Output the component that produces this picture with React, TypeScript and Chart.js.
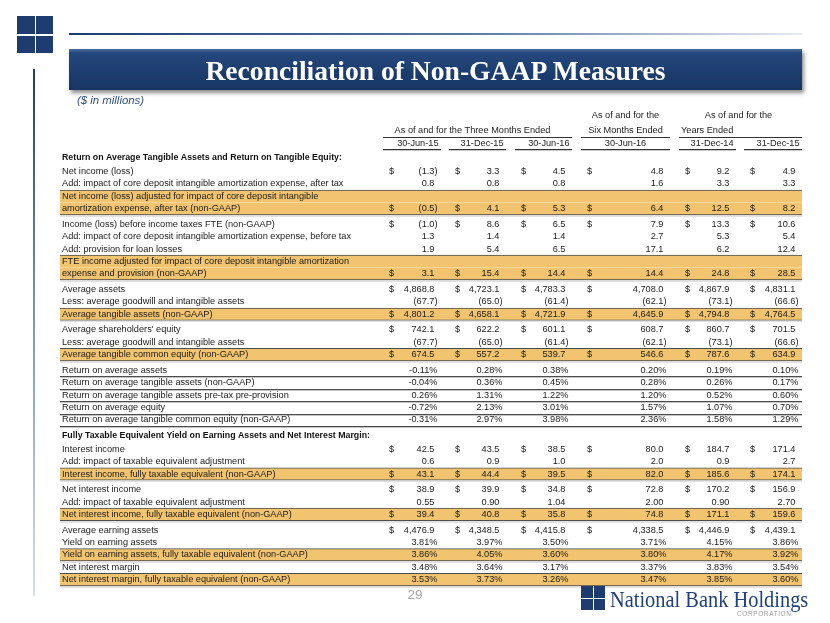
import React, { useEffect, useRef } from 'react';
import { Chart, registerables } from 'chart.js';

Chart.register(...registerables);

// ---------------- DATA ----------------
const periodDates = ['30-Jun-15', '31-Dec-15', '30-Jun-16', '30-Jun-16', '31-Dec-14', '31-Dec-15'];
const periodGroupThree = 'As of and for the Three Months Ended';
const periodGroupSix = ['As of and for the', 'Six Months Ended'];
const periodGroupYears = ['As of and for the', 'Years Ended'];

const rowLabels: (string | string[])[] = [
  'Return on Average Tangible Assets and Return on Tangible Equity:',
  'Net income (loss)',
  'Add: impact of core deposit intangible amortization expense, after tax',
  ['Net income (loss) adjusted for impact of core deposit intangible', 'amortization expense, after tax (non-GAAP)'],
  'Income (loss) before income taxes FTE (non-GAAP)',
  'Add: impact of core deposit intangible amortization expense, before tax',
  'Add: provision for loan losses',
  ['FTE income adjusted for impact of core deposit intangible amortization', 'expense and provision (non-GAAP)'],
  'Average assets',
  'Less: average goodwill and intangible assets',
  'Average tangible assets (non-GAAP)',
  "Average shareholders' equity",
  'Less: average goodwill and intangible assets',
  'Average tangible common equity (non-GAAP)',
  'Return on average assets',
  'Return on average tangible assets (non-GAAP)',
  'Return on average tangible assets pre-tax pre-provision',
  'Return on average equity',
  'Return on average tangible common equity (non-GAAP)',
  'Fully Taxable Equivalent Yield on Earning Assets and Net Interest Margin:',
  'Interest income',
  'Add: impact of taxable equivalent adjustment',
  'Interest income, fully taxable equivalent (non-GAAP)',
  'Net interest income',
  'Add: impact of taxable equivalent adjustment',
  'Net interest income, fully taxable equivalent (non-GAAP)',
  'Average earning assets',
  'Yield on earning assets',
  'Yield on earning assets, fully taxable equivalent (non-GAAP)',
  'Net interest margin',
  'Net interest margin, fully taxable equivalent (non-GAAP)',
];

// section | row | hl (highlighted non-GAAP) | rule (row with bottom rule)
const rowKinds = [
  'section', 'row', 'row', 'hl', 'row', 'row', 'row', 'hl', 'row', 'row', 'hl', 'row', 'row', 'hl',
  'rule', 'rule', 'rule', 'rule', 'rule',
  'section', 'row', 'row', 'hl', 'row', 'row', 'hl', 'row', 'row', 'hl', 'row', 'hl',
];

const rowFormats = [
  '', 'n1', 'n1', 'n1', 'n1', 'n1', 'n1', 'n1', 'n1', 'n1', 'n1', 'n1', 'n1', 'n1',
  'pct', 'pct', 'pct', 'pct', 'pct',
  '', 'n1', 'n1', 'n1', 'n1', 'n2', 'n1', 'n1', 'pct', 'pct', 'pct', 'pct',
];

const rowDollar = [
  false, true, false, true, true, false, false, true, true, false, true, true, false, true,
  false, false, false, false, false,
  false, true, false, true, true, false, true, true, false, false, false, false,
];

const jun15 = [null, -1.3, 0.8, -0.5, -1.0, 1.3, 1.9, 3.1, 4868.8, -67.7, 4801.2, 742.1, -67.7, 674.5,
  -0.11, -0.04, 0.26, -0.72, -0.31, null, 42.5, 0.6, 43.1, 38.9, 0.55, 39.4, 4476.9, 3.81, 3.86, 3.48, 3.53];
const dec15 = [null, 3.3, 0.8, 4.1, 8.6, 1.4, 5.4, 15.4, 4723.1, -65.0, 4658.1, 622.2, -65.0, 557.2,
  0.28, 0.36, 1.31, 2.13, 2.97, null, 43.5, 0.9, 44.4, 39.9, 0.90, 40.8, 4348.5, 3.97, 4.05, 3.64, 3.73];
const jun16 = [null, 4.5, 0.8, 5.3, 6.5, 1.4, 6.5, 14.4, 4783.3, -61.4, 4721.9, 601.1, -61.4, 539.7,
  0.38, 0.45, 1.22, 3.01, 3.98, null, 38.5, 1.0, 39.5, 34.8, 1.04, 35.8, 4415.8, 3.50, 3.60, 3.17, 3.26];
const sixJun16 = [null, 4.8, 1.6, 6.4, 7.9, 2.7, 17.1, 14.4, 4708.0, -62.1, 4645.9, 608.7, -62.1, 546.6,
  0.20, 0.28, 1.20, 1.57, 2.36, null, 80.0, 2.0, 82.0, 72.8, 2.00, 74.8, 4338.5, 3.71, 3.80, 3.37, 3.47];
const year14 = [null, 9.2, 3.3, 12.5, 13.3, 5.3, 6.2, 24.8, 4867.9, -73.1, 4794.8, 860.7, -73.1, 787.6,
  0.19, 0.26, 0.52, 1.07, 1.58, null, 184.7, 0.9, 185.6, 170.2, 0.90, 171.1, 4446.9, 4.15, 4.17, 3.83, 3.85];
const year15 = [null, 4.9, 3.3, 8.2, 10.6, 5.4, 12.4, 28.5, 4831.1, -66.6, 4764.5, 701.5, -66.6, 634.9,
  0.10, 0.17, 0.60, 0.70, 1.29, null, 171.4, 2.7, 174.1, 156.9, 2.70, 159.6, 4439.1, 3.86, 3.92, 3.54, 3.60];

const columns = [jun15, dec15, jun16, sixJun16, year14, year15];

// ---------------- LAYOUT ----------------
const W = 830;
const H = 623;
const LINE = 12.4; // px per text line
const TABLE_TOP = 158; // px of first row
const GAP_AFTER_HL = 3.2 / LINE;
const GAP_AFTER_SEC = 1.0 / LINE;
const GAP_BEFORE_SEC = 3.6 / LINE;
const TABLE_LEFT = 60;
const TABLE_RIGHT = 802;
const LABEL_X = 62;
const COL_START = [383, 449, 515, 581, 679, 744];
const COL_END = [441, 506, 572, 670, 736, 802];
const HEAD_Y1 = -3.4;
const HEAD_Y2 = -2.25;
const HEAD_RULE1 = -1.67;
const DATE_Y = -1.17;
const HEAD_RULE2 = -0.7;

const SANS = "'Liberation Sans', Arial, Helvetica, sans-serif";
const F_BODY = `9.2px ${SANS}`;
const F_BOLD = `bold 8.8px ${SANS}`;
const F_HEAD = `9.2px ${SANS}`;
const TXT = '#1a1a1a';
const NAVY = '#1f3c70';

// row positions in "line" units (computed from row kinds / line counts)
const firstY: number[] = [];
const lastY: number[] = [];
(() => {
  let y = 0;
  rowKinds.forEach((k, i) => {
    if (i > 0) {
      const prev = rowKinds[i - 1];
      y += 1;
      // a white gap follows a highlighted block, unless the next row is itself squeezed between highlights
      if (prev === 'hl' && rowKinds[i + 1] !== 'hl') y += GAP_AFTER_HL;
      if (prev === 'section') y += GAP_AFTER_SEC;
      if (k === 'section') y += GAP_BEFORE_SEC;
    }
    const lab = rowLabels[i];
    const n = Array.isArray(lab) ? lab.length : 1;
    firstY.push(y);
    y += n - 1;
    lastY.push(y);
  });
})();

const hlLines: { y: number; first: boolean; last: boolean }[] = [];
rowKinds.forEach((k, i) => {
  if (k !== 'hl') return;
  const lab = rowLabels[i];
  const n = Array.isArray(lab) ? lab.length : 1;
  for (let j = 0; j < n; j++) hlLines.push({ y: firstY[i] + j, first: j === 0, last: j === n - 1 });
});

function fmt(v: number, f: string): string {
  if (f === 'pct') return (v < 0 ? '-' : '') + Math.abs(v).toFixed(2) + '%';
  const d = f === 'n2' ? 2 : 1;
  const s = Math.abs(v).toLocaleString('en-US', { minimumFractionDigits: d, maximumFractionDigits: d });
  return v < 0 ? '(' + s + ')' : s;
}

const tablePlugin = {
  id: 'tableText',
  afterDatasetsDraw(chart: any) {
    const { ctx } = chart;
    const xs = chart.scales.x;
    const ys = chart.scales.y;
    const X = (v: number) => xs.getPixelForValue(v);
    const Y = (v: number) => ys.getPixelForValue(v);
    const hline = (x0: number, x1: number, yv: number, color: string, dy = 0) => {
      const yy = Math.round(Y(yv)) + 0.5 + dy;
      ctx.beginPath();
      ctx.moveTo(X(x0), yy);
      ctx.lineTo(X(x1), yy);
      ctx.strokeStyle = color;
      ctx.lineWidth = 1;
      ctx.stroke();
    };
    const text = (s: string, xv: number, yv: number, align: string, font: string, color = TXT) => {
      ctx.font = font;
      ctx.fillStyle = color;
      ctx.textAlign = align;
      ctx.fillText(s, X(xv), Y(yv));
    };

    ctx.save();
    ctx.textBaseline = 'middle';

    // ---- header ----
    const sixC = (COL_START[3] + COL_END[3]) / 2;
    const yrsC = (COL_START[4] + COL_END[5]) / 2 - 2;
    text(periodGroupSix[0], sixC, HEAD_Y1, 'center', F_HEAD, '#222');
    text(periodGroupYears[0], yrsC, HEAD_Y1, 'center', F_HEAD, '#222');
    text(periodGroupThree, (COL_START[0] + COL_END[2]) / 2 - 5, HEAD_Y2, 'center', F_HEAD, '#222');
    text(periodGroupSix[1], sixC, HEAD_Y2, 'center', F_HEAD, '#222');
    text(periodGroupYears[1], COL_START[4] + 2, HEAD_Y2, 'left', F_HEAD, '#222');
    hline(COL_START[0], COL_END[2], HEAD_RULE1, '#333');
    hline(COL_START[3], COL_END[3], HEAD_RULE1, '#333');
    hline(COL_START[4], COL_END[5], HEAD_RULE1, '#333');
    periodDates.forEach((d, c) => {
      if (c === 3) text(d, sixC, DATE_Y, 'center', F_HEAD, '#222');
      else text(d, COL_END[c] - 2.5, DATE_Y, 'right', F_HEAD, '#222');
      hline(COL_START[c], COL_END[c], HEAD_RULE2, '#333');
      hline(COL_START[c], COL_END[c], HEAD_RULE2, '#c8c8c8', 1);
    });

    // ---- rows ----
    ctx.font = F_BODY;
    const parenW = ctx.measureText(')').width;
    rowKinds.forEach((k, i) => {
      const lab = rowLabels[i];
      if (k === 'section') {
        text(lab as string, LABEL_X, lastY[i], 'left', F_BOLD, '#111');
        return;
      }
      const lines = Array.isArray(lab) ? lab : [lab];
      lines.forEach((s, j) => text(s, LABEL_X, firstY[i] + j, 'left', F_BODY));
      columns.forEach((col, c) => {
        const v = col[i];
        if (v == null) return;
        if (rowDollar[i]) text('$', COL_START[c] + 6, lastY[i], 'left', F_BODY);
        const s = fmt(v, rowFormats[i]);
        const right = COL_END[c] - 3.5;
        if (rowFormats[i] === 'pct' || v < 0) text(s, right, lastY[i], 'right', F_BODY);
        else text(s, right - parenW, lastY[i], 'right', F_BODY);
      });
      if (k === 'rule') {
        hline(TABLE_LEFT, TABLE_RIGHT, lastY[i] + 0.5, '#4d4d4d');
        hline(TABLE_LEFT, TABLE_RIGHT, lastY[i] + 0.5, '#c4c4c4', 1);
      }
      if (k === 'hl') {
        hline(TABLE_LEFT, TABLE_RIGHT, lastY[i] + 0.5, '#c4c4c4', 0.5);
      }
    });
    ctx.restore();
  },
};

export default function App() {
  const ref = useRef<HTMLCanvasElement>(null);

  useEffect(() => {
    const chart = new Chart(ref.current as HTMLCanvasElement, {
      type: 'bar',
      data: {
        datasets: [
          {
            label: 'Non-GAAP rows',
            data: hlLines.map((l) => ({ x: [TABLE_LEFT, TABLE_RIGHT], y: l.y })) as any,
            backgroundColor: '#F2C46F',
            borderColor: '#4d4d4d',
            borderSkipped: false,
            borderWidth: (c: any) => {
              const l = hlLines[c.dataIndex];
              if (!l) return 0;
              return { top: l.first ? 1 : 0, bottom: l.last ? 1 : 0, left: 0, right: 0 };
            },
            barThickness: LINE,
          } as any,
        ],
      },
      options: {
        indexAxis: 'y',
        responsive: false,
        animation: false,
        events: [],
        layout: { padding: 0 },
        plugins: { legend: { display: false }, tooltip: { enabled: false }, title: { display: false } },
        scales: {
          x: { type: 'linear', min: 0, max: W, bounds: 'data', display: false, stacked: false },
          y: {
            type: 'linear',
            min: -TABLE_TOP / LINE,
            max: (H - TABLE_TOP) / LINE,
            bounds: 'data',
            reverse: true,
            offset: false,
            display: false,
          },
        },
      } as any,
      plugins: [tablePlugin],
    });
    return () => chart.destroy();
  }, []);

  const sq = (left: number, top: number, size: number) => (
    <div key={`${left}-${top}`} style={{ position: 'absolute', left, top, width: size, height: size, background: NAVY }} />
  );

  return (
    <div style={{ position: 'absolute', left: 0, top: 0, width: W, height: H, background: '#fff', overflow: 'hidden', fontFamily: SANS }}>
      <canvas ref={ref} width={W} height={H} style={{ position: 'absolute', left: 0, top: 0, width: W, height: H }} />
      {/* top-left logo */}
      {sq(17, 16, 17.5)}
      {sq(35.5, 16, 17.5)}
      {sq(17, 35.5, 17.5)}
      {sq(35.5, 35.5, 17.5)}
      {/* top rule */}
      <div style={{ position: 'absolute', left: 69, top: 33, width: 733, height: 2, background: 'linear-gradient(90deg,#1f3c70 0%,#5b77a3 55%,#e6ebf3 100%)' }} />
      {/* vertical rule */}
      <div style={{ position: 'absolute', left: 33, top: 69, width: 2, height: 527, background: 'linear-gradient(180deg,#1f3c70 0%,#7d91b3 45%,#d7deea 100%)' }} />
      {/* title bar */}
      <div
        style={{
          position: 'absolute', left: 69, top: 49, width: 733, height: 41,
          background: 'linear-gradient(180deg,#4a6b9e 0%,#24477c 10%,#1d3d6f 55%,#183463 100%)',
          boxShadow: '2px 3px 4px rgba(0,0,0,0.45)',
          color: '#fff', font: "bold 27.6px 'Liberation Serif', 'Times New Roman', serif",
          textAlign: 'center', lineHeight: '43px', whiteSpace: 'nowrap',
        }}
      >
        Reconciliation of Non-GAAP Measures
      </div>
      <div style={{ position: 'absolute', left: 77, top: 92, font: `italic 11.4px ${SANS}`, lineHeight: '16px', color: '#2e4f8d', whiteSpace: 'nowrap' }}>
        ($ in millions)
      </div>
      {/* page number */}
      <div style={{ position: 'absolute', left: 395, top: 587, width: 40, textAlign: 'center', font: `13.5px ${SANS}`, lineHeight: '16px', color: '#a5a5a5' }}>29</div>
      {/* bottom logo */}
      {sq(581, 586, 11.5)}
      {sq(593.5, 586, 11.5)}
      {sq(581, 598.5, 11.5)}
      {sq(593.5, 598.5, 11.5)}
      <div style={{ position: 'absolute', left: 610, top: 587, font: "24px 'Liberation Serif', 'Times New Roman', serif", lineHeight: '24px', color: '#1f3f7d', whiteSpace: 'nowrap', transform: 'scaleX(0.85)', transformOrigin: 'left center' }}>
        National Bank Holdings
      </div>
      <div style={{ position: 'absolute', left: 737, top: 610, font: `6.5px ${SANS}`, letterSpacing: '0.6px', lineHeight: '8px', color: '#9b9b9b', whiteSpace: 'nowrap' }}>
        CORPORATION
      </div>
    </div>
  );
}
